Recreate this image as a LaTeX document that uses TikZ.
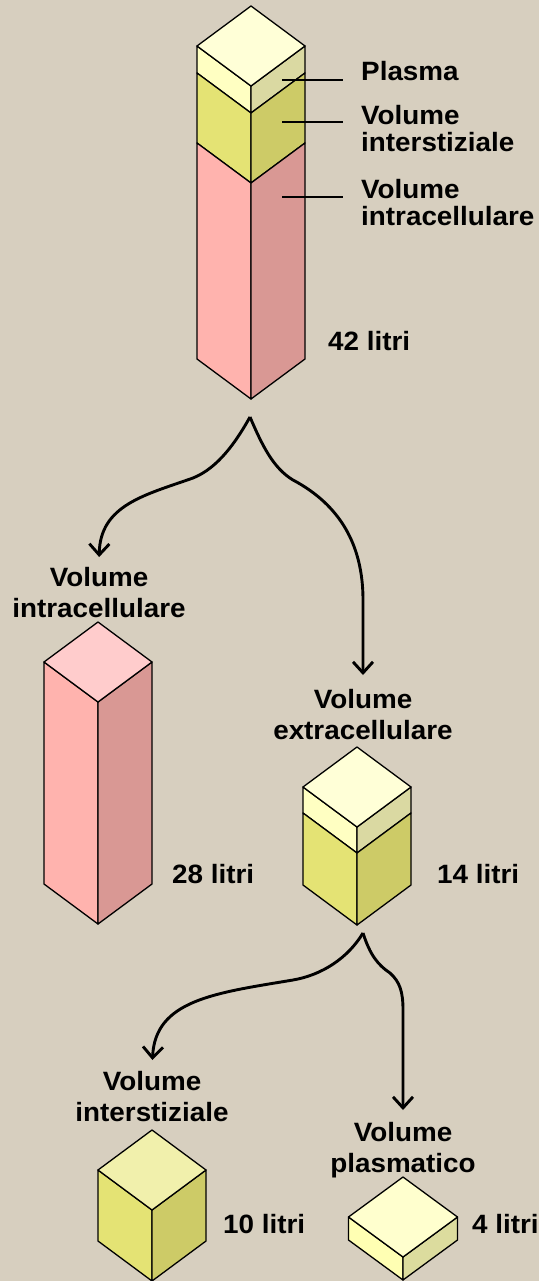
\documentclass[tikz,border=0pt]{standalone}
\usepackage{fontspec}
\setmainfont{Liberation Sans}[FakeStretch=1.05]
\usetikzlibrary{arrows.meta}
\definecolor{bgc}{HTML}{D7CFBF}
\definecolor{ytop}{HTML}{FFFFD7}
\definecolor{plL}{HTML}{FFFFC2}
\definecolor{plR}{HTML}{DAD9A2}
\definecolor{inL}{HTML}{E4E374}
\definecolor{inR}{HTML}{CDCB67}
\definecolor{inT}{HTML}{F1F0AC}
\definecolor{pkL}{HTML}{FFB3AE}
\definecolor{pkR}{HTML}{D99894}
\definecolor{pkT}{HTML}{FFCCCC}
\definecolor{pbT}{HTML}{FFFFCE}
\definecolor{pbL}{HTML}{FFFFB3}
\definecolor{pbR}{HTML}{DCDC9E}
\def\prismhw{54}
\def\prismdd{40}
\newcommand\sideband[5]{%
  \filldraw[edge, fill=#4] (#1-\prismhw,#2) -- (#1,#2+\prismdd) -- (#1,#3+\prismdd) -- (#1-\prismhw,#3) -- cycle;
  \filldraw[edge, fill=#5] (#1,#2+\prismdd) -- (#1+\prismhw,#2) -- (#1+\prismhw,#3) -- (#1,#3+\prismdd) -- cycle;}
\newcommand\topface[3]{%
  \filldraw[edge, fill=#3] (#1,#2-\prismdd) -- (#1+\prismhw,#2) -- (#1,#2+\prismdd) -- (#1-\prismhw,#2) -- cycle;}
\begin{document}
\begin{tikzpicture}[x=1pt,y=-1pt,
  edge/.style={draw=black, line width=1.3pt, line join=round},
  lab/.style={font=\fontsize{26.5}{31}\selectfont\bfseries, inner sep=0pt, text=black},
  tightlab/.style={font=\fontsize{26.5}{27}\selectfont\bfseries, inner sep=0pt, text=black},
  arr/.style={line width=2.9pt, -{Straight Barb[length=11pt,width=20pt]}},
  leader/.style={line width=2.2pt}]
\fill[bgc] (0,0) rectangle (539,1281);
\useasboundingbox (0,0) rectangle (539,1281);

% main column (42 litri)
\sideband{251}{46}{73}{plL}{plR}
\sideband{251}{73}{143}{inL}{inR}
\sideband{251}{143}{359}{pkL}{pkR}
\topface{251}{46}{ytop}
\coordinate (col1bot) at (251,399);

% intracellular column (28 litri)
\sideband{98}{662}{884}{pkL}{pkR}
\topface{98}{662}{pkT}

% extracellular box (14 litri)
\sideband{357}{787}{813}{plL}{plR}
\sideband{357}{813}{885}{inL}{inR}
\topface{357}{787}{ytop}

% interstitial cube (10 litri)
\sideband{152}{1170}{1241}{inL}{inR}
\topface{152}{1170}{inT}

% plasma box (4 litri)
\begingroup
\def\prismhw{54.5}
\sideband{403}{1217}{1240}{pbL}{pbR}
\topface{403}{1217}{pbT}
\endgroup

% labels
\node[lab, anchor=base west] (lplasma) at (361,81) {Plasma};
\node[tightlab, align=left, anchor=north west] (linter) at (361,105) {Volume\\interstiziale};
\node[tightlab, align=left, anchor=north west] (lintra) at (361,179) {Volume\\intracellulare};
\node[lab, anchor=base west] (l42) at (328,350) {42 litri};
\node[lab, align=center, anchor=north] (mintra) at (99,567) {Volume\\intracellulare};
\node[lab, align=center, anchor=north] (mextra) at (363,689) {Volume\\extracellulare};
\node[lab, anchor=base west] (l28) at (172,883) {28 litri};
\node[lab, anchor=base west] (l14) at (437,883) {14 litri};
\node[lab, align=center, anchor=north] (binter) at (152,1071) {Volume\\interstiziale};
\node[lab, align=center, anchor=north] (bplasma) at (403,1122) {Volume\\plasmatico};
\node[lab, anchor=base west] (l10) at (223,1233) {10 litri};
\node[lab, anchor=base west] (l4) at (472,1233) {4 litri};

% leader lines
\coordinate (pp) at (282,80);
\coordinate (pi) at (282,122);
\coordinate (pc) at (282,197);
\draw[leader, shorten >=18pt] (pp) -- (pp -| lplasma.west);
\draw[leader, shorten >=18pt] (pi) -- (pi -| linter.west);
\draw[leader, shorten >=18pt] (pc) -- (pc -| lintra.west);

% split arrows
\coordinate (split1) at (250,417);
\draw[arr, shorten >=10pt] (split1) .. controls (236,442) and (218,468) .. (193,478)
  .. controls (145,495) and (100,505) .. (mintra.north);
\draw[arr, shorten >=14pt] (split1) .. controls (262,445) and (273,468) .. (293,480)
  .. controls (340,505) and (363,545) .. (363,600) -- (mextra.north);
\coordinate (split2) at (363,933);
\draw[arr, shorten >=11pt] (split2) .. controls (348,958) and (322,975) .. (293,980)
  .. controls (215,993) and (155,1000) .. (binter.north);
\draw[arr, shorten >=12pt] (split2) .. controls (370,955) and (378,965) .. (390,973)
  .. controls (400,982) and (403,992) .. (403,1010) -- (bplasma.north);
\end{tikzpicture}
\end{document}
